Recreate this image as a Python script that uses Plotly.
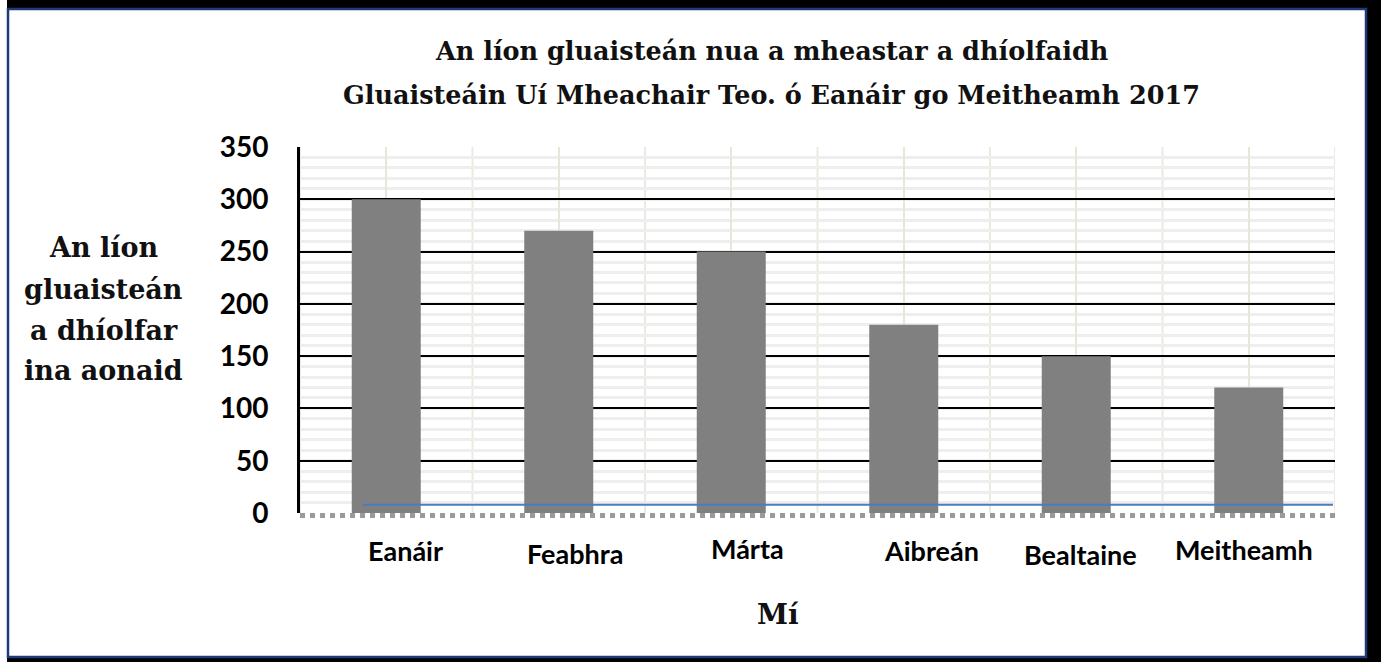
import plotly.graph_objects as go

# ---- data ----
months = ["Eanáir", "Feabhra", "Márta", "Aibreán", "Bealtaine", "Meitheamh"]
cars_sold = [300, 270, 250, 180, 150, 120]
y_ticks = [0, 50, 100, 150, 200, 250, 300, 350]
blue_line_value = [8]

title_lines = ["An líon gluaisteán nua a mheastar a dhíolfaidh",
               "Gluaisteáin Uí Mheachair Teo. ó Eanáir go Meitheamh 2017"]
y_title_lines = ["An líon", "gluaisteán", "a dhíolfar", "ina aonaid"]
x_title = "Mí"

# ---- layout geometry (pixels) ----
W, H = 1381, 662
L, R, T, B = 300, 1335, 147, 513


def xp(px):
    return (px - L) / (R - L)


def yp(py):
    return (B - py) / (B - T)


fig = go.Figure()
fig.add_trace(go.Bar(x=months, y=cars_sold, marker_color="#808080",
                     marker_line_width=0, width=0.4, showlegend=False))

shapes = []
# frame: black shadow + white panel with navy border
shapes.append(dict(type="rect", xref="paper", yref="paper",
                   x0=xp(7), x1=xp(W + 2), y0=yp(H + 2), y1=yp(-2),
                   fillcolor="black", line_width=0, layer="below"))
shapes.append(dict(type="rect", xref="paper", yref="paper",
                   x0=xp(8), x1=xp(1366), y0=yp(657), y1=yp(9),
                   fillcolor="white", line=dict(color="#1f3a7a", width=2.5),
                   layer="below"))
# vertical gridlines at category boundaries
for i in range(len(months) + 1):
    shapes.append(dict(type="line", xref="x", yref="paper",
                       x0=i - 0.5, x1=i - 0.5, y0=0, y1=1,
                       line=dict(color="#ece9df", width=2), layer="below"))
# dotted base band
shapes.append(dict(type="line", xref="paper", yref="paper",
                   x0=0, x1=1, y0=yp(515.5), y1=yp(515.5),
                   line=dict(color="#9a9a9a", width=5, dash="dot"), layer="above"))
# blue line near base
shapes.append(dict(type="line", xref="paper", yref="y",
                   x0=xp(363), x1=xp(1333), y0=blue_line_value[0], y1=blue_line_value[0],
                   line=dict(color="#4a7cc0", width=2), layer="above"))

annotations = []
serif = "DejaVu Serif"
title_y = [51, 95]
for txt, py in zip(title_lines, title_y):
    annotations.append(dict(text="<b>" + txt + "</b>", xref="paper", yref="paper",
                            x=xp(771), y=yp(py),
                            xanchor="center", yanchor="middle", showarrow=False,
                            font=dict(family=serif, size=25.5, color="#111111")))
ytitle_y = [247, 289, 330, 370]
for txt, py in zip(y_title_lines, ytitle_y):
    annotations.append(dict(text="<b>" + txt + "</b>", xref="paper", yref="paper",
                            x=xp(104), y=yp(py),
                            xanchor="center", yanchor="middle", showarrow=False,
                            font=dict(family=serif, size=27, color="#111111")))
annotations.append(dict(text="<b>" + x_title + "</b>", xref="paper", yref="paper",
                        x=xp(778), y=yp(614),
                        xanchor="center", yanchor="middle", showarrow=False,
                        font=dict(family=serif, size=28, color="#111111")))
# x category labels (individual nudges as in the reference)
label_dx = [19, 16, 16, 28, 4, -5]
label_py = [550, 553, 548, 550, 554, 549]
for m, dx, py in zip(months, label_dx, label_py):
    annotations.append(dict(text="<b>" + m + "</b>", xref="x", yref="paper", x=m, y=yp(py),
                            xshift=dx, xanchor="center", yanchor="middle", showarrow=False,
                            font=dict(family="Lato", size=27, color="black")))

fig.update_layout(
    width=W, height=H,
    margin=dict(l=L, r=W - R, t=T, b=H - B, pad=0),
    paper_bgcolor="white", plot_bgcolor="white",
    shapes=shapes, annotations=annotations,
    bargap=0.6,
    xaxis=dict(type="category", range=[-0.5, len(months) - 0.5],
               showticklabels=False, ticks="", showgrid=True,
               gridcolor="#e8e5da", gridwidth=2, zeroline=False, showline=False),
    yaxis=dict(range=[0, 350], tickvals=y_ticks, ticktext=["<b>%d</b>" % v for v in y_ticks],
               tickfont=dict(family="Lato", size=28, color="black"),
               ticks="", ticklabelstandoff=23,
               showgrid=True, gridcolor="black", gridwidth=2,
               minor=dict(dtick=10, showgrid=True, gridcolor="#eeeeee", gridwidth=3),
               zeroline=False, showline=True, linecolor="black", linewidth=3),
)

fig.write_html("out.html", config={"displayModeBar": False},
               post_script="document.body.style.margin='0px';document.body.style.overflow='hidden';")
